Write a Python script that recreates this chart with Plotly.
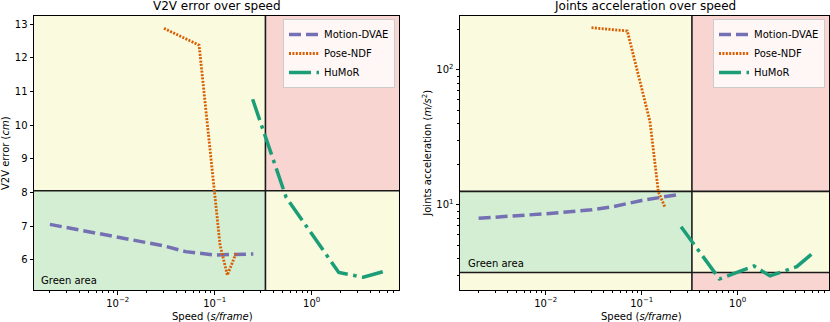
import plotly.graph_objects as go

# ---------------- data ----------------
methods = ["Motion-DVAE", "Pose-NDF", "HuMoR"]
colors = ["#7570b3", "#d95f02", "#1b9e77"]

md_speed = [0.002, 0.01, 0.03, 0.05, 0.1, 0.25]
md_v2v = [7.05, 6.66, 6.41, 6.24, 6.14, 6.17]
md_acc = [7.97, 8.6, 9.2, 9.7, 10.8, 12.0]

pn_speed_v2v = [0.03, 0.069, 0.1135, 0.135, 0.166]
pn_v2v = [12.88, 12.38, 6.44, 5.54, 6.19]
pn_speed_acc = [0.03, 0.0708, 0.122, 0.149, 0.175]
pn_acc = [205.6, 194.5, 41.4, 12.5, 9.6]

hm_speed_v2v = [0.246, 0.544, 1.9, 3.4, 5.4]
hm_v2v = [10.77, 7.86, 5.62, 5.48, 5.64]
hm_speed_acc = [0.257, 0.645, 1.48, 2.17, 4.12, 6.03]
hm_acc = [6.9, 2.83, 3.53, 2.98, 3.49, 4.39]

speed_threshold = 1 / 3
v2v_threshold = 8.05
acc_low = 3.16
acc_high = 12.6

x_tickvals = [0.01, 0.1, 1]
x_ticktext = ["10<sup>−2</sup>", "10<sup>−1</sup>", "10<sup>0</sup>"]
v2v_tickvals = [6, 7, 8, 9, 10, 11, 12, 13]
acc_tickvals = [10, 100]
acc_ticktext = ["10<sup>1</sup>", "10<sup>2</sup>"]

titles = ["V2V error over speed", "Joints acceleration over speed"]
xlabel = "Speed (<i>s/frame</i>)"
ylabels = ["V2V error (<i>cm</i>)", "Joints acceleration (<i>m/s</i><sup>2</sup>)"]

# ---------------- layout geometry ----------------
W, H = 830, 322
XL = [-2.863, 0.903]
YL = [5.099, 13.256]
XR = [-2.893, 0.951]
YR = [0.37, 2.402]
dom_l = [34 / W, 399.3 / W]
dom_r = [460 / W, 829 / W]
dom_y = [(H - 290) / H, (H - 15.7) / H]

FONT = "DejaVu Sans"
YELLOW = "rgb(250,250,222)"
GREEN = "rgb(211,238,211)"
RED = "rgb(248,213,208)"

fig = go.Figure()

dash_styles = ["12px,5px", "2px,1.4px", "22px,5.5px,3.5px,5.5px"]
widths = [3.5, 2.8, 3.5]

left_series = [(md_speed, md_v2v), (pn_speed_v2v, pn_v2v), (hm_speed_v2v, hm_v2v)]
right_series = [(md_speed, md_acc), (pn_speed_acc, pn_acc), (hm_speed_acc, hm_acc)]

for i, (xs, ys) in enumerate(left_series):
    fig.add_trace(go.Scatter(x=xs, y=ys, mode="lines", name=methods[i],
                             line=dict(color=colors[i], width=widths[i], dash=dash_styles[i]),
                             xaxis="x", yaxis="y", legend="legend"))
for i, (xs, ys) in enumerate(right_series):
    fig.add_trace(go.Scatter(x=xs, y=ys, mode="lines", name=methods[i],
                             line=dict(color=colors[i], width=widths[i], dash=dash_styles[i]),
                             xaxis="x2", yaxis="y2", legend="legend2"))


def minor_vals(lo, hi):
    vals = []
    for e in range(-4, 4):
        for m in range(2, 10):
            v = m * 10 ** e
            if 10 ** lo <= v <= 10 ** hi:
                vals.append(v)
    return vals


def rect(xref, yref, x0, x1, y0, y1, color):
    fig.add_shape(type="rect", xref=xref, yref=yref, x0=x0, x1=x1, y0=y0, y1=y1,
                  fillcolor=color, line=dict(width=0), layer="below")


def hline(xref, yref, x0, x1, y):
    fig.add_shape(type="line", xref=xref, yref=yref, x0=x0, x1=x1, y0=y, y1=y,
                  line=dict(color="#1a1a1a", width=1.6), layer="below")


def vline(xref, yref, x, y0, y1):
    fig.add_shape(type="line", xref=xref, yref=yref, x0=x, x1=x, y0=y0, y1=y1,
                  line=dict(color="#1a1a1a", width=1.6), layer="below")


# left panel regions
lx0, lx1 = 10 ** XL[0], 10 ** XL[1]
ly0, ly1 = YL
rect("x", "y", lx0, speed_threshold, ly0, v2v_threshold, GREEN)
rect("x", "y", lx0, speed_threshold, v2v_threshold, ly1, YELLOW)
rect("x", "y", speed_threshold, lx1, ly0, v2v_threshold, YELLOW)
rect("x", "y", speed_threshold, lx1, v2v_threshold, ly1, RED)
hline("x", "y", lx0, lx1, v2v_threshold)
vline("x", "y", speed_threshold, ly0, ly1)

# right panel regions
rx0, rx1 = 10 ** XR[0], 10 ** XR[1]
ry0, ry1 = 10 ** YR[0], 10 ** YR[1]
rect("x2", "y2", rx0, speed_threshold, acc_low, acc_high, GREEN)
rect("x2", "y2", rx0, speed_threshold, acc_high, ry1, YELLOW)
rect("x2", "y2", rx0, speed_threshold, ry0, acc_low, YELLOW)
rect("x2", "y2", speed_threshold, rx1, acc_low, acc_high, YELLOW)
rect("x2", "y2", speed_threshold, rx1, acc_high, ry1, RED)
rect("x2", "y2", speed_threshold, rx1, ry0, acc_low, RED)
hline("x2", "y2", rx0, rx1, acc_high)
hline("x2", "y2", rx0, rx1, acc_low)
vline("x2", "y2", speed_threshold, ry0, ry1)

axis_common = dict(showline=True, linecolor="black", linewidth=1, mirror=True,
                   ticks="outside", ticklen=3.5, tickwidth=1, tickcolor="black",
                   showgrid=False, zeroline=False,
                   tickfont=dict(family=FONT, size=10, color="black"))

legend_common = dict(yanchor="top", y=(H - 19) / H, xanchor="right",
                     bgcolor="rgba(255,255,255,0.8)", bordercolor="#cccccc", borderwidth=1,
                     font=dict(family=FONT, size=10), tracegroupgap=0)

fig.update_layout(
    width=W, height=H,
    margin=dict(l=0, r=0, t=0, b=0),
    paper_bgcolor="white", plot_bgcolor="white",
    font=dict(family=FONT, size=10, color="black"),
    xaxis=dict(domain=dom_l, type="log", range=XL, anchor="y",
               tickvals=x_tickvals, ticktext=x_ticktext,
               minor=dict(tickvals=minor_vals(*XL), ticks="outside", ticklen=2, tickcolor="black"),
               **axis_common),
    yaxis=dict(domain=dom_y, range=YL, anchor="x", tickvals=v2v_tickvals, **axis_common),
    xaxis2=dict(domain=dom_r, type="log", range=XR, anchor="y2",
                tickvals=x_tickvals, ticktext=x_ticktext,
                minor=dict(tickvals=minor_vals(*XR), ticks="outside", ticklen=2, tickcolor="black"),
                **axis_common),
    yaxis2=dict(domain=dom_y, type="log", range=YR, anchor="x2",
                tickvals=acc_tickvals, ticktext=acc_ticktext,
                minor=dict(tickvals=minor_vals(*YR), ticks="outside", ticklen=2, tickcolor="black"),
                **axis_common),
    legend=dict(x=395 / W, **legend_common),
    legend2=dict(x=825 / W, **legend_common),
)

ann = []
# titles
ann.append(dict(text=titles[0], x=216.7 / W, y=(H - 6) / H))
ann.append(dict(text=titles[1], x=644.5 / W, y=(H - 6) / H))
for a in ann:
    a.update(xref="paper", yref="paper", showarrow=False, xanchor="center", yanchor="middle",
             font=dict(family=FONT, size=12, color="black"))
axis_ann = [
    dict(text=xlabel, x=212 / W, y=(H - 316) / H, textangle=0),
    dict(text=xlabel, x=641.3 / W, y=(H - 316) / H, textangle=0),
    dict(text=ylabels[0], x=6 / W, y=(H - 153) / H, textangle=-90),
    dict(text=ylabels[1], x=426.7 / W, y=(H - 153) / H, textangle=-90),
    dict(text="Green area", x=39.3 / W, y=(H - 280.7) / H, textangle=0, xanchor="left"),
    dict(text="Green area", x=465.7 / W, y=(H - 263.3) / H, textangle=0, xanchor="left"),
]
for a in axis_ann:
    a.setdefault("xanchor", "center")
    a.update(xref="paper", yref="paper", showarrow=False, yanchor="middle",
             font=dict(family=FONT, size=10, color="black"))
fig.update_layout(annotations=ann + axis_ann)

fig.write_html("out.html", config={"displayModeBar": False},
               post_script="document.body.style.margin='0';document.body.style.overflow='hidden';")
